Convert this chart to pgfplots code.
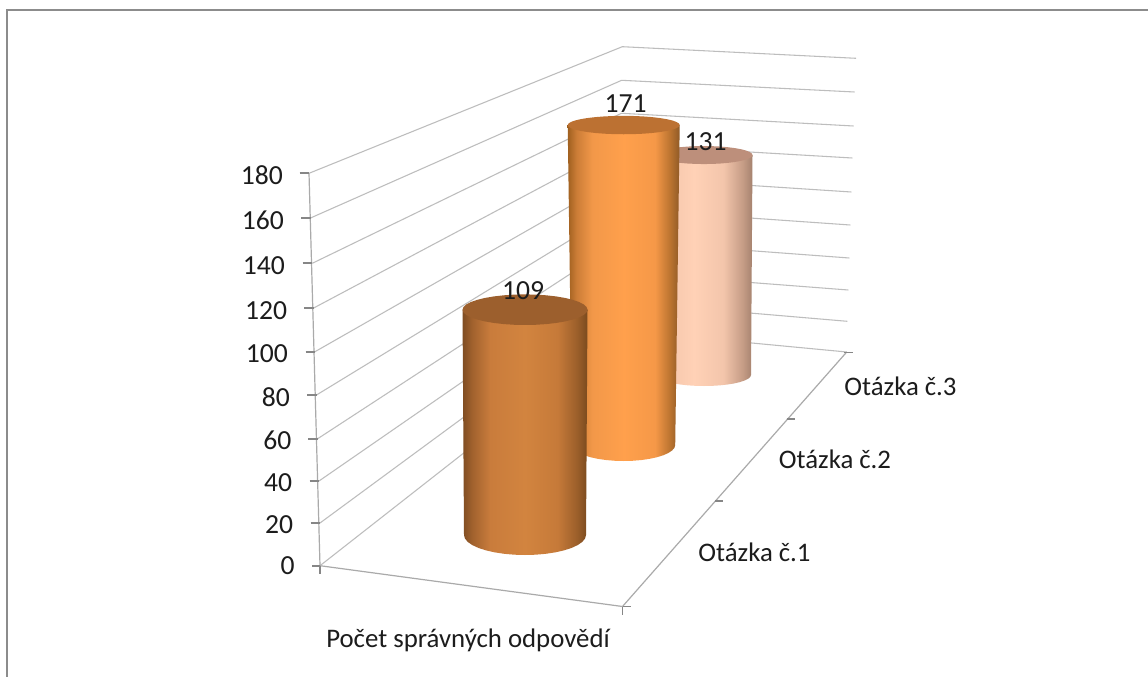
\documentclass[border=0pt]{standalone}
\usepackage{pgfplots}
\pgfplotsset{compat=1.18}
\usepackage{pgfplotstable}
\usepackage{fontspec}
\setmainfont{Carlito}

\definecolor{gridgray}{HTML}{BDBDBD}
\definecolor{tickgray}{HTML}{868686}
\definecolor{framegray}{HTML}{8C8C8C}
\definecolor{inktext}{HTML}{1C1C1C}

% Side shading of the three cylinders (a path's width spans 25bp to 75bp)
\pgfdeclarehorizontalshading{cylA}{100bp}{
  rgb(0bp)=(0.498,0.302,0.133);
  rgb(25bp)=(0.498,0.302,0.133);
  rgb(29bp)=(0.635,0.384,0.180);
  rgb(36bp)=(0.788,0.486,0.235);
  rgb(50bp)=(0.824,0.518,0.247);
  rgb(63bp)=(0.776,0.478,0.224);
  rgb(71bp)=(0.604,0.369,0.165);
  rgb(75bp)=(0.478,0.290,0.118);
  rgb(100bp)=(0.478,0.290,0.118)}
\pgfdeclarehorizontalshading{cylB}{100bp}{
  rgb(0bp)=(0.627,0.376,0.122);
  rgb(25bp)=(0.627,0.376,0.122);
  rgb(29bp)=(0.800,0.490,0.216);
  rgb(36bp)=(0.949,0.596,0.286);
  rgb(50bp)=(1.000,0.627,0.298);
  rgb(64bp)=(0.961,0.596,0.282);
  rgb(71bp)=(0.722,0.447,0.184);
  rgb(75bp)=(0.561,0.353,0.149);
  rgb(100bp)=(0.561,0.353,0.149)}
\pgfdeclarehorizontalshading{cylC}{100bp}{
  rgb(0bp)=(0.878,0.698,0.600);
  rgb(25bp)=(0.878,0.698,0.600);
  rgb(30bp)=(0.961,0.776,0.671);
  rgb(45bp)=(1.000,0.820,0.714);
  rgb(60bp)=(0.953,0.773,0.671);
  rgb(70bp)=(0.773,0.612,0.525);
  rgb(75bp)=(0.647,0.510,0.431);
  rgb(100bp)=(0.647,0.510,0.431)}

\definecolor{capAcolor}{HTML}{9C5F2D}
\definecolor{capBcolor}{HTML}{BC7132}
\definecolor{capCcolor}{HTML}{BD8F7B}

\tikzset{
  bodyA/.style={shading=cylA,draw=none}, capA/.style={fill=capAcolor,draw=none},
  bodyB/.style={shading=cylB,draw=none}, capB/.style={fill=capBcolor,draw=none},
  bodyC/.style={shading=cylC,draw=none}, capC/.style={fill=capCcolor,draw=none},
  gridline/.style={gridgray,line width=0.8pt},
  axisline/.style={gridgray!90!black,line width=0.9pt},
  tickmark/.style={tickgray,line width=1.3pt},
  chartlabel/.style={text=inktext,font=\fontsize{20.1}{24}\selectfont,inner sep=0pt},
  numberlabel/.style={text=inktext,font=\fontsize{20.7}{24}\selectfont,inner sep=0pt},
}

% Outline of a cylinder side: c, s on the unit ellipse, h = 0 at the base, 1 at the top
\pgfplotstableread{
c s h
-1.000 0.000 0
-0.985 0.174 0
-0.940 0.342 0
-0.866 0.500 0
-0.766 0.643 0
-0.643 0.766 0
-0.500 0.866 0
-0.342 0.940 0
-0.174 0.985 0
0.000 1.000 0
0.174 0.985 0
0.342 0.940 0
0.500 0.866 0
0.643 0.766 0
0.766 0.643 0
0.866 0.500 0
0.940 0.342 0
0.985 0.174 0
1.000 0.000 0
1.000 0.000 1
-1.000 0.000 1
}\sideoutline

% Outline of the top face
\pgfplotstableread{
c s h
1.000 0.000 1
0.985 -0.174 1
0.940 -0.342 1
0.866 -0.500 1
0.766 -0.643 1
0.643 -0.766 1
0.500 -0.866 1
0.342 -0.940 1
0.174 -0.985 1
0.000 -1.000 1
-0.174 -0.985 1
-0.342 -0.940 1
-0.500 -0.866 1
-0.643 -0.766 1
-0.766 -0.643 1
-0.866 -0.500 1
-0.940 -0.342 1
-0.985 -0.174 1
-1.000 0.000 1
-0.985 0.174 1
-0.940 0.342 1
-0.866 0.500 1
-0.766 0.643 1
-0.643 0.766 1
-0.500 0.866 1
-0.342 0.940 1
-0.174 0.985 1
0.000 1.000 1
0.174 0.985 1
0.342 0.940 1
0.500 0.866 1
0.643 0.766 1
0.766 0.643 1
0.866 0.500 1
0.940 0.342 1
0.985 0.174 1
}\capoutline

% value, px per unit, centre x, base y, rx base, rx top, ry base, ry top, style suffix
\newcommand{\cylinder}[9]{%
  \addplot[body#9] table[
    x expr={#3+\thisrow{c}*(#5+\thisrow{h}*(#6-#5))},
    y expr={#4-\thisrow{h}*#1*#2+\thisrow{s}*(#7+\thisrow{h}*(#8-#7))}
  ] {\sideoutline} -- cycle;
  \addplot[cap#9] table[
    x expr={#3+\thisrow{c}*(#5+\thisrow{h}*(#6-#5))},
    y expr={#4-\thisrow{h}*#1*#2+\thisrow{s}*(#7+\thisrow{h}*(#8-#7))}
  ] {\capoutline} -- cycle;
}

\begin{document}
\begin{tikzpicture}
\begin{axis}[
  scale only axis, width=861pt, height=507.75pt,
  xmin=0, xmax=1148, ymin=0, ymax=677, y dir=reverse,
  hide axis, no markers,
]
% page
\addplot[fill=white,draw=none] coordinates {(0,0)(1148,0)(1148,677)(0,677)} -- cycle;
% outer frame
\addplot[framegray,line width=1.9pt] coordinates {(7,677)(7,10)(1148,10)};

% side wall grid
\addplot[gridline] coordinates {(320,565.7)(620,330.5)(846.7,352)};
\addplot[gridline] coordinates {(320,523)(620.2,302)(847.3,321.3)};
\addplot[gridline] coordinates {(319,481)(620.5,272.5)(848.3,290)};
\addplot[gridline] coordinates {(317.7,438.7)(620.7,241)(849.3,258)};
\addplot[gridline] coordinates {(316.5,395)(620.9,209)(850.3,225)};
\addplot[gridline] coordinates {(315,351.7)(621,177)(851.3,192)};
\addplot[gridline] coordinates {(313.7,308)(621.2,144.5)(852.3,158)};
\addplot[gridline] coordinates {(312.3,263.3)(621.4,113.3)(853.5,126)};
\addplot[gridline] coordinates {(310.5,218)(621.6,80.3)(854.5,92)};
\addplot[gridline] coordinates {(309,173.3)(622.3,46.7)(856,58.3)};

% axis lines and floor edges
\addplot[axisline] coordinates {(309,173.3)(320,565.7)};
\addplot[axisline] coordinates {(320,565.7)(622.5,606.5)(846.7,352)};

% tick marks of the value axis
\addplot[tickmark] coordinates {(312,565.7)(320,565.7)};
\addplot[tickmark] coordinates {(310.5,523)(319.5,523)};
\addplot[tickmark] coordinates {(309.5,481)(319,481)};
\addplot[tickmark] coordinates {(308,438.7)(317.7,438.7)};
\addplot[tickmark] coordinates {(307,395)(316.5,395)};
\addplot[tickmark] coordinates {(305.5,351.7)(315,351.7)};
\addplot[tickmark] coordinates {(304,308)(313.7,308)};
\addplot[tickmark] coordinates {(302.5,263.3)(312.3,263.3)};
\addplot[tickmark] coordinates {(301,218)(310.5,218)};
\addplot[tickmark] coordinates {(299.5,173.3)(309,173.3)};
\addplot[tickmark] coordinates {(320,565.7)(320,574)};
% tick marks of the depth and category edges
\addplot[tickmark] coordinates {(622.5,606.5)(622.5,615)};
\addplot[tickmark] coordinates {(622.5,606.5)(631,606.5)};
\addplot[tickmark] coordinates {(715,501)(722.7,501)};
\addplot[tickmark] coordinates {(786.7,419)(795.3,419)};
\addplot[tickmark] coordinates {(844,352.5)(853,352.5)};

% cylinders, back to front
\cylinder{131}{1.679}{704}{375}{47}{48.5}{11}{9}{C}
\cylinder{171}{1.871}{623.7}{445}{51.5}{56}{16}{9.2}{B}
\cylinder{109}{2.067}{525}{535}{61}{62.5}{20}{15.3}{A}

% value labels
\node[numberlabel] at (axis cs:705.7,141.7) {131};
\node[numberlabel] at (axis cs:625.7,104) {171};
\node[numberlabel] at (axis cs:523,291) {109};

% value axis labels
\node[numberlabel,anchor=east] at (axis cs:295,566) {0};
\node[numberlabel,anchor=east] at (axis cs:293.3,525) {20};
\node[numberlabel,anchor=east] at (axis cs:292.3,483) {40};
\node[numberlabel,anchor=east] at (axis cs:291.7,440.5) {60};
\node[numberlabel,anchor=east] at (axis cs:290,397) {80};
\node[numberlabel,anchor=east] at (axis cs:288,353.5) {100};
\node[numberlabel,anchor=east] at (axis cs:287.3,310.5) {120};
\node[numberlabel,anchor=east] at (axis cs:285,265.5) {140};
\node[numberlabel,anchor=east] at (axis cs:284,220) {160};
\node[numberlabel,anchor=east] at (axis cs:283,175) {180};

% category labels
\node[chartlabel] at (axis cs:468,640) {Počet správných odpovědí};
\node[chartlabel] at (axis cs:754.5,552.7) {Otázka č.1};
\node[chartlabel] at (axis cs:835,459) {Otázka č.2};
\node[chartlabel] at (axis cs:900.5,386) {Otázka č.3};
\end{axis}
\end{tikzpicture}
\end{document}
